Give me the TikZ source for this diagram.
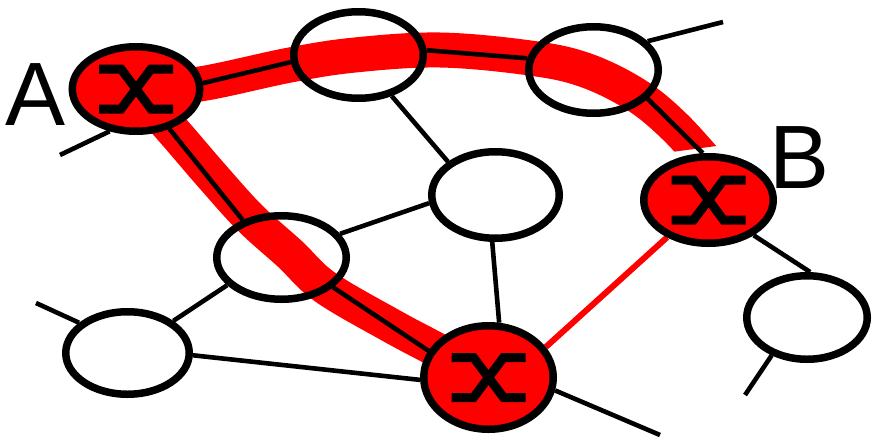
\documentclass[tikz,border=0pt]{standalone}
\usepackage{fontspec}
\setmainfont{Liberation Sans}
\usetikzlibrary{shapes.geometric}
\definecolor{rd}{RGB}{255,0,0}
\begin{document}
\begin{tikzpicture}[x=1pt,y=-1pt,
  nd/.style={ellipse, inner sep=0pt, line width=7.5pt},
  szA/.style={minimum width=127.5pt, minimum height=84.5pt},
  szT/.style={minimum width=129.5pt, minimum height=86.5pt},
  szC/.style={minimum width=127.5pt, minimum height=86.5pt},
  szL/.style={minimum width=129.5pt, minimum height=83.5pt},
  szBL/.style={minimum width=123.5pt, minimum height=82.5pt},
  szBC/.style={minimum width=129.5pt, minimum height=103.5pt},
  szR/.style={minimum width=120.5pt, minimum height=83.5pt},
  edge/.style={line width=4.6pt, black},
  redline/.style={line width=6pt, rd},
  band/.style={line width=35pt, rd, line join=round},
  sw/.style={line width=9pt, line join=miter, black},
  lbl/.style={font=\fontsize{90}{90}\selectfont, anchor=base, inner sep=0pt}]
\useasboundingbox (0,0) rectangle (872,439);
% pass 1: node fills
\node[nd, fill=white, szA] (A) at (136,89) {};
\node[nd, fill=white, szT] (T1) at (358.5,55) {};
\node[nd, fill=white, szT] (T2) at (593.5,70) {};
\node[nd, fill=white, szT] (B) at (708.5,200) {};
\node[nd, fill=white, szC] (C) at (495.5,195) {};
\node[nd, fill=white, szL] (L) at (281.5,257.5) {};
\node[nd, fill=white, szBL] (BL) at (127.5,353) {};
\node[nd, fill=white, szBC] (BC) at (488.5,377.5) {};
\node[nd, fill=white, szR] (R) at (807,317.5) {};
% pass 2: red band
\begin{scope}
\clip (0,0) -- (872,0) -- (872,125) -- (620,159) -- (620,439) -- (0,439) -- cycle;
\draw[band] plot[smooth, tension=0.6] coordinates {(136,89) (200,84) (290,65) (355,55) (440,50) (530,58) (585,70) (636,95) (675,127) (712,168)};
\draw[band] plot[smooth, tension=0.6] coordinates {(136,89) (175,133) (212,176) (250,218) (290,254) (325,287) (390,325) (435,349) (489,378)};
\end{scope}
% pass 3: edges
\draw[edge] (A.5) -- (T1.186);
\draw[edge] (T1.4) -- (T2.170);
\draw[edge] (T2.-28) -- (B.97);
\draw[edge] (A.-50) -- (L.136);
\draw[edge] (L.-30) -- (BC.156);
\draw[edge] (T1.-51) -- (C.145);
\draw[edge] (L.22) -- (C.187);
\draw[edge] (L.207) -- (BL.35);
\draw[edge] (BL.-2) -- (BC.182);
\draw[edge] (C.266) -- (BC.79);
\draw[redline] (BC.28) -- (B.222);
\draw[edge] (B.-38) -- (R.86);
\coordinate (sA) at (60,155);
\coordinate (sT2) at (723,22);
\coordinate (sR) at (745,395);
\coordinate (sBL) at (36,303);
\coordinate (sBC) at (660,435);
\draw[edge] (A.238) -- (sA);
\draw[edge] (T2.28) -- (sT2);
\draw[edge] (R.227) -- (sR);
\draw[edge] (BL.148) -- (sBL);
\draw[edge] (BC.-11) -- (sBC);
% pass 4: outlines
\node[nd, draw, szT] at (T1) {};
\node[nd, draw, szT] at (T2) {};
\node[nd, draw, szC] at (C) {};
\node[nd, draw, szL] at (L) {};
\node[nd, draw, szBL] at (BL) {};
\node[nd, draw, szR] at (R) {};
\node[nd, draw, fill=rd, szA] at (A) {};
\node[nd, draw, fill=rd, szT] at (B) {};
\node[nd, draw, fill=rd, szBC] at (BC) {};
% pass 5: switch symbols
\foreach \n in {A,B,BC}{
  \begin{scope}[shift={(\n)}]
    \draw[sw] (-37,-20) -- (-15,-20) -- (15,20) -- (37,20);
    \draw[sw] (-37,20) -- (-15,20) -- (15,-20) -- (37,-20);
  \end{scope}
}
% labels
\node[lbl] (labA) at (36,125) {A};
\node[lbl] (labB) at (800,188) {B};
\end{tikzpicture}
\end{document}
